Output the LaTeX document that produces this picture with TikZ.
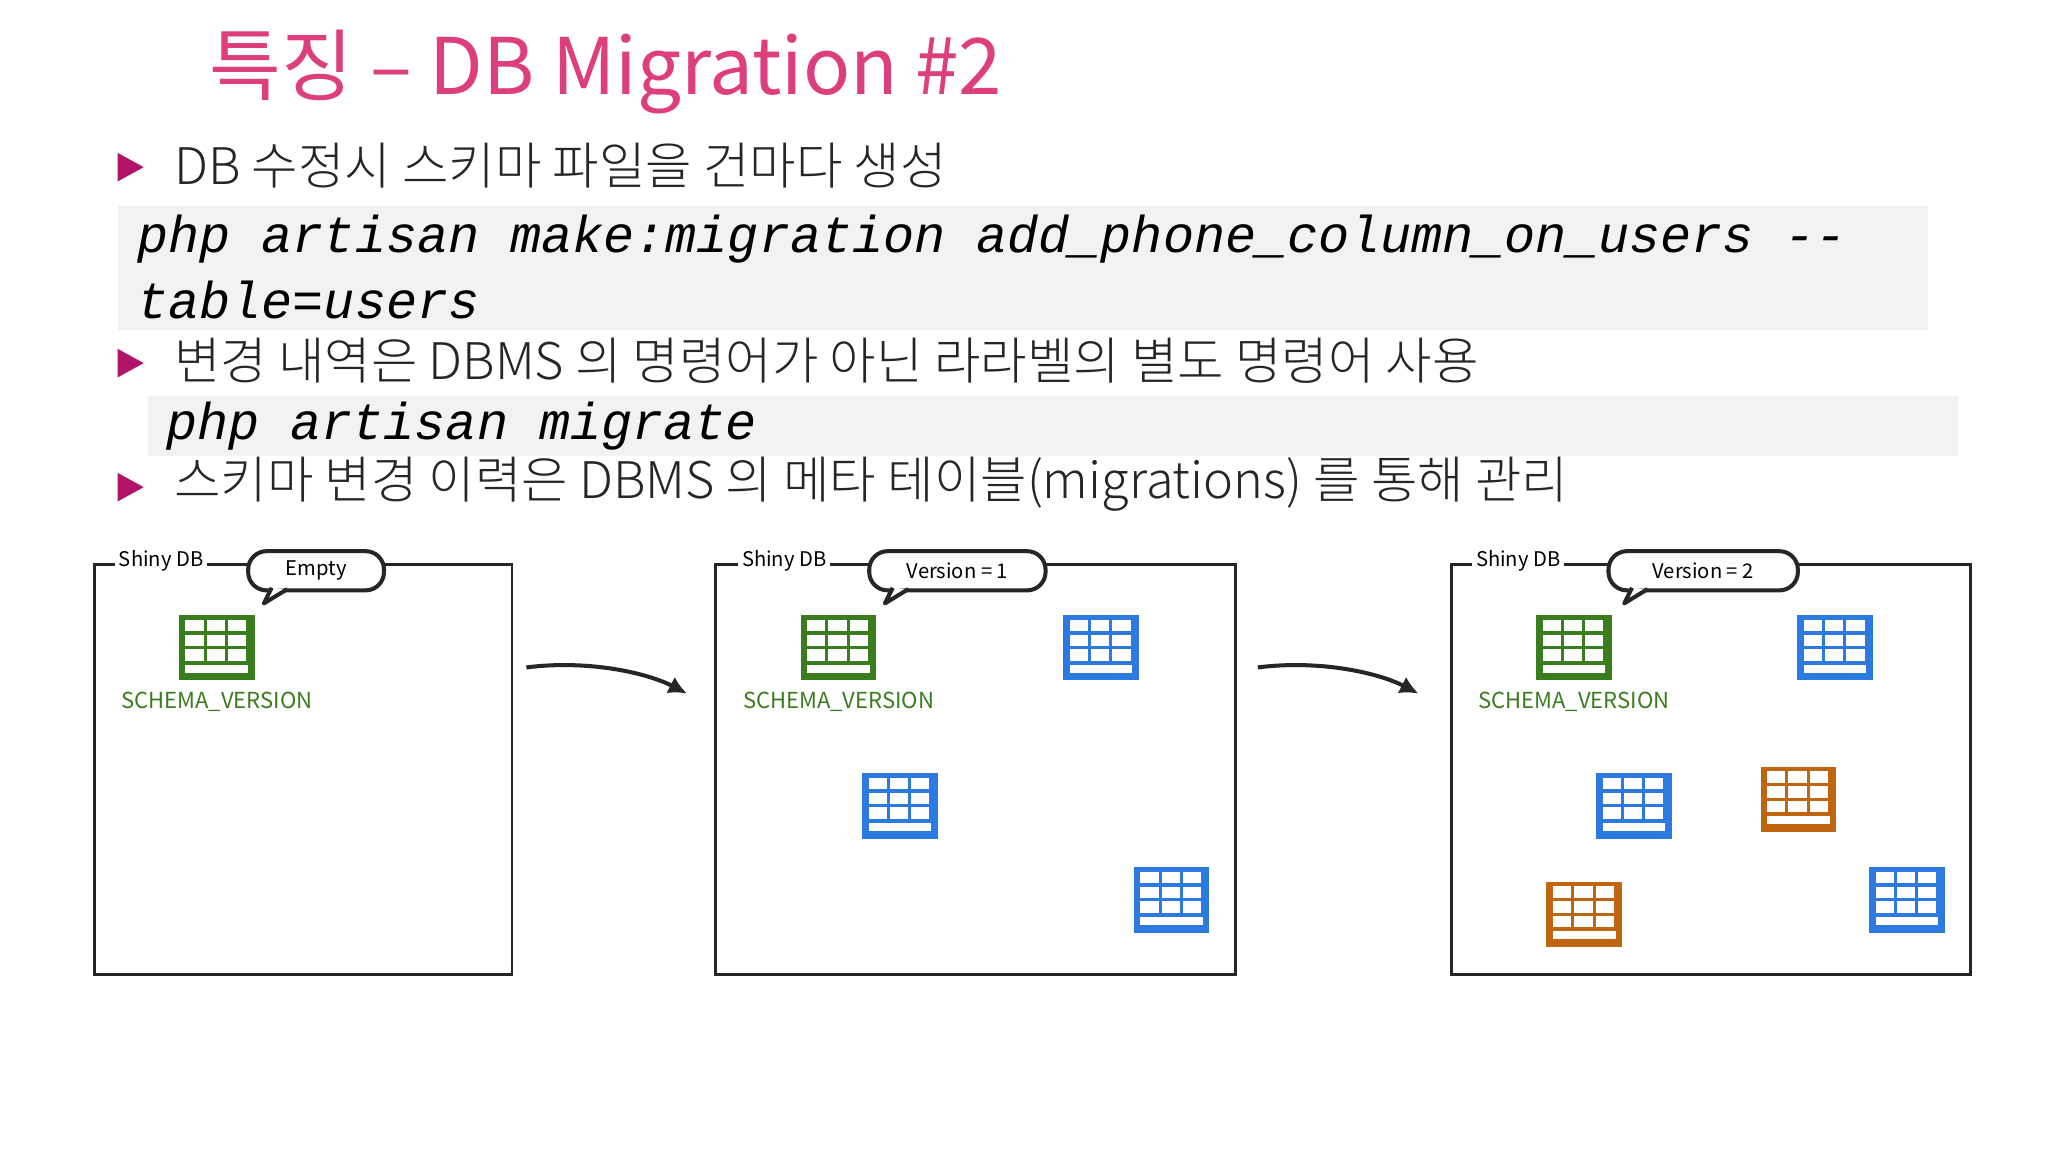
\documentclass[tikz,border=0pt]{standalone}
\usepackage{fontspec}
\setmainfont{Noto Sans CJK KR}
\newfontfamily\bodyfont{Noto Sans CJK KR Light}
\newfontfamily\codefont{Liberation Mono}
\usetikzlibrary{arrows.meta}
\definecolor{ttl}{HTML}{DC3F7C}
\definecolor{bul}{HTML}{B0156A}
\definecolor{codebg}{HTML}{F2F2F2}
\definecolor{tgreen}{HTML}{3A7D1E}
\definecolor{tblue}{HTML}{2A7AE0}
\definecolor{torange}{HTML}{C0650F}
\tikzset{
  bodytxt/.style={anchor=west,inner sep=0,font=\bodyfont\fontsize{27.5}{32}\selectfont,text=black!85},
  codetxt/.style={anchor=west,inner sep=0,font=\codefont\itshape\fontsize{28.2}{34}\selectfont},
  dbbox/.style={draw=black!85,line width=1.6pt},
  dblabel/.style={fill=white,inner sep=2pt,font=\fontsize{11}{13}\selectfont,anchor=west},
  bubble/.style={draw=black!85,line width=2.2pt,fill=white,rounded corners=10pt,minimum height=0.75cm,font=\fontsize{11}{13}\selectfont},
  schtxt/.style={text=tgreen,font=\fontsize{12}{14}\selectfont},
  flow/.style={line width=2.2pt,draw=black!85,-{Latex[length=10pt,width=10pt]}},
  pics/tbl/.style={code={
    \fill[#1] (-29,-25) rectangle (29,25);
    \fill[white] (-24,19) rectangle (24,13);
    \foreach \r in {0,1,2}{\foreach \c in {0,1,2}{
      \fill[white] (-24+\c*16.3,10-\r*11.3) rectangle (-24+\c*16.3+14,10-\r*11.3-8.8);}}
  }}
}
\begin{document}
\begin{tikzpicture}[x=0.025cm,y=-0.025cm]
\useasboundingbox (0,0) rectangle (1568,882);
\fill[white] (0,0) rectangle (1568,882);
% title
\node[anchor=west,inner sep=0,text=ttl,font=\fontsize{42.5}{50}\selectfont] (title) at (160,55) {특징 – DB Migration \#2};
% bullets
\fill[bul] (90,117) -- (110,128) -- (90,139) -- cycle;
\node[bodytxt] (b1) at (133,127) {DB 수정시 스키마 파일을 건마다 생성};
\fill[codebg] (90,158) rectangle (1476,253);
\node[codetxt] (c1a) at (105,183) {php artisan make:migration add\_phone\_column\_on\_users --};
\node[codetxt] (c1b) at (105,230) {table=users};
\fill[bul] (90,267) -- (110,278) -- (90,289) -- cycle;
\node[bodytxt] (b2) at (133,276) {변경 내역은 DBMS 의 명령어가 아닌 라라벨의 별도 명령어 사용};
\fill[codebg] (113,303) rectangle (1499,349);
\node[codetxt] (c2) at (127,326) {php artisan migrate};
\fill[bul] (90,362) -- (110,373) -- (90,384) -- cycle;
\node[bodytxt] (b3) at (133,371) {스키마 변경 이력은 DBMS 의 메타 테이블(migrations) 를 통해 관리};

% boxes
\draw[dbbox] (72,432) rectangle (392,746);
\node[dblabel] (l1) at (88,429) {Shiny DB};
\draw[dbbox] (548,432) rectangle (946,746);
\node[dblabel] (l2) at (565,429) {Shiny DB};
\draw[dbbox] (1111,432) rectangle (1509,746);
\node[dblabel] (l3) at (1127,429) {Shiny DB};

% bubbles
\foreach \cx/\w/\t/\n in {242/104/Empty/e1, 733/135/{Version = 1}/e2, 1304/145/{Version = 2}/e3}{
  \node[bubble,minimum width=\w*0.025cm] (\n) at (\cx,437) {\t};
  \fill[white,draw=black!85,line width=2.2pt,line join=round] (\cx-\w/2+18,450) -- (\cx-\w/2+12,462) -- (\cx-\w/2+30,451);
  \fill[white] (\cx-\w/2+16,449) rectangle (\cx-\w/2+31,445);
}

% green icons
\foreach \x/\n in {166/s1,642/s2,1205/s3}{
  \pic at (\x,496) {tbl=tgreen};
  \node[schtxt] (\n) at (\x,537) {SCHEMA\_VERSION};
}
% blue
\foreach \x/\y in {843/496,689/617,897/689,1405/496,1251/617,1460/689}{\pic at (\x,\y) {tbl=tblue};}
% orange
\foreach \x/\y in {1377/612,1213/700}{\pic at (\x,\y) {tbl=torange};}

% arrows
\coordinate (a1s) at (403,511); \coordinate (a1e) at (526,531);
\coordinate (a2s) at (963,511); \coordinate (a2e) at (1086,531);
\draw[flow] (a1s) .. controls (450,505) and (495,515) .. (a1e);
\draw[flow] (a2s) .. controls (1010,505) and (1055,515) .. (a2e);
\end{tikzpicture}
\end{document}
